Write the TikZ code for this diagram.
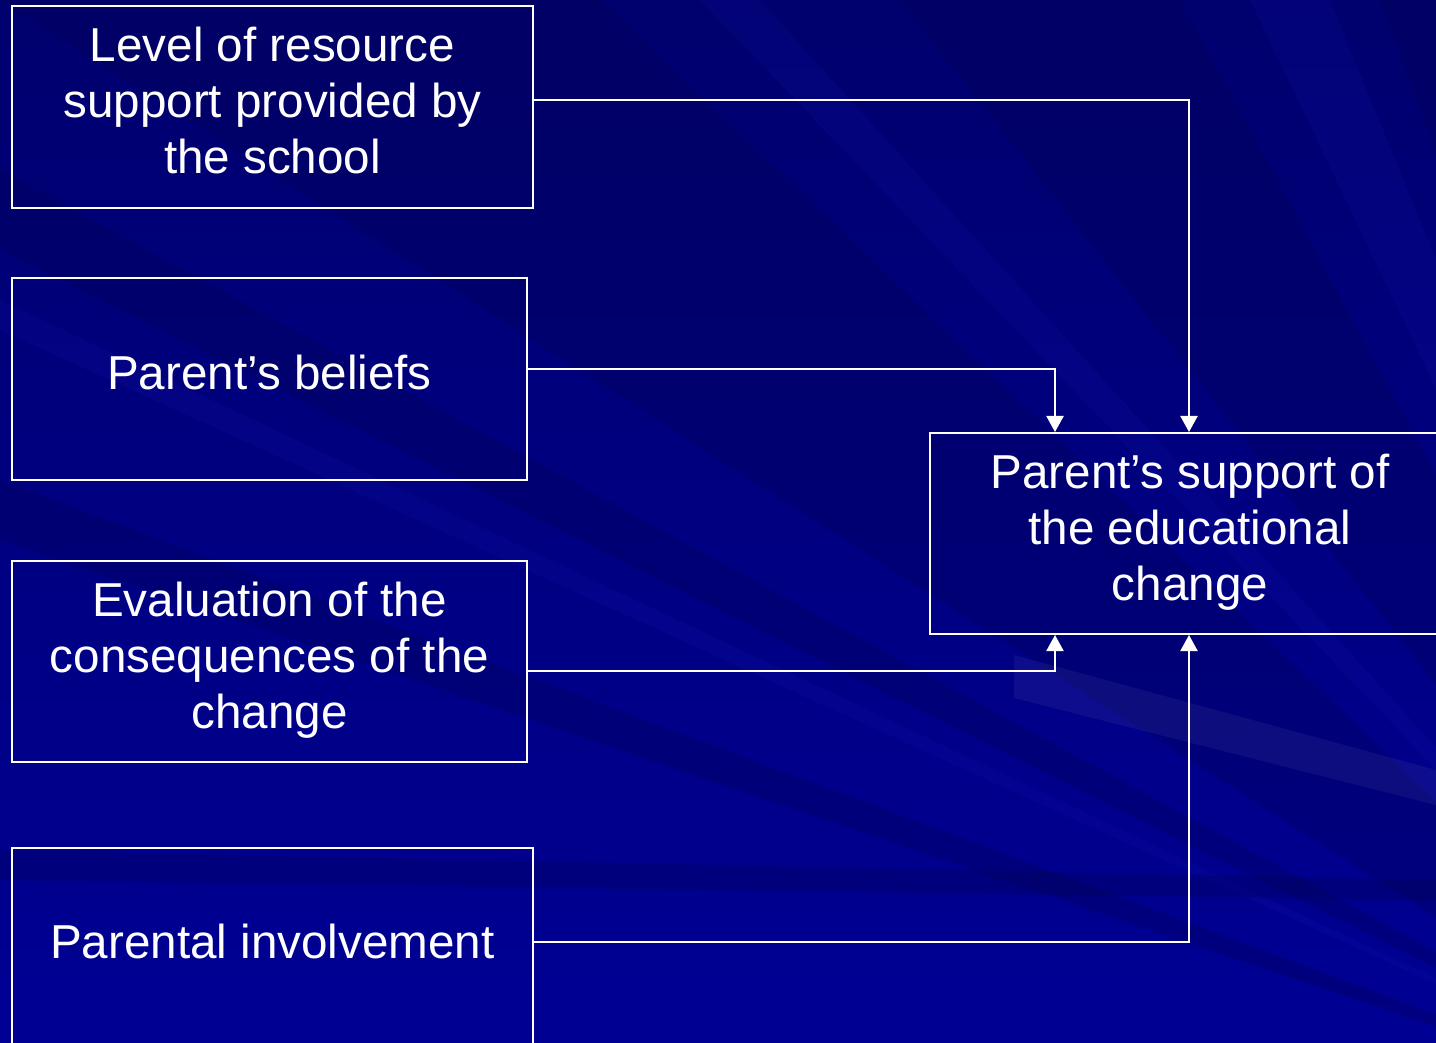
\documentclass[tikz,border=0pt]{standalone}
\usepackage{fontspec}
\setmainfont{Liberation Sans}
\usetikzlibrary{arrows.meta,calc}
\definecolor{bgblue}{RGB}{0,0,148}
\definecolor{bgtop}{RGB}{0,0,110}
\definecolor{bgdark}{RGB}{0,0,80}
\definecolor{bglight}{RGB}{30,30,190}
\begin{document}
\begin{tikzpicture}[x=0.5pt,y=-0.5pt,
  box/.style={draw=white,line width=1pt,inner sep=0pt},
  txt/.style={text=white,align=center,font=\fontsize{23.8}{28}\selectfont,inner sep=0pt},
  conn/.style={draw=white,line width=1pt,-{Triangle[width=8.5pt,length=8pt]}},
  darkray/.style={fill=bgdark,opacity=0.28},
  lightray/.style={fill=bglight,opacity=0.12}]
\useasboundingbox (0,0) rectangle (1436,1043);
% background
\shade[top color=bgtop,bottom color=bgblue] (0,0) rectangle (1436,1043);
\coordinate (P) at (1800,1150);
\fill[darkray] (P) -- (0,0) -- (600,0) -- cycle;
\fill[darkray] (P) -- (0,170) -- (0,250) -- cycle;
\fill[lightray] (P) -- (0,300) -- (0,330) -- cycle;
\fill[darkray] (P) -- (0,480) -- (0,540) -- cycle;
\fill[lightray] (P) -- (700,0) -- (760,0) -- cycle;
\fill[darkray] (P) -- (900,0) -- (1180,0) -- cycle;
\fill[lightray] (P) -- (1250,0) -- (1330,0) -- cycle;
\fill[darkray] (P) -- (1436,60) -- (1436,0) -- (1380,0) -- cycle;
\fill[darkray] (0,850) -- (1436,880) -- (1436,900) -- (0,880) -- cycle;
\fill[white,opacity=0.05] (1014,655) -- (1436,770) -- (1436,805) -- (1014,698) -- cycle;
% boxes
\node[box,minimum width=260.5pt,minimum height=101pt,
  label={[txt,yshift=3.5pt]center:{Level of resource\\support provided by\\the school}}] (b1) at (272.5,107) {};
\node[box,minimum width=257.5pt,minimum height=101pt,
  label={[txt,yshift=3.5pt]center:{Parent’s beliefs}}] (b2) at (269.5,379) {};
\node[box,minimum width=257.5pt,minimum height=100.5pt,
  label={[txt,yshift=0.5pt]center:{Evaluation of the\\consequences of the\\change}}] (b3) at (269.5,661.5) {};
\node[box,minimum width=260.5pt,minimum height=101pt,
  label={[txt,yshift=4pt]center:{Parental involvement}}] (b4) at (272.5,949) {};
\node[box,minimum width=260pt,minimum height=100.5pt,
  label={[txt,yshift=0.5pt]center:{Parent’s support of\\the educational\\change}}] (tgt) at (1190,533.5) {};
% connectors
\draw[conn] ([yshift=3.5pt]b1.east) -| ([xshift=130pt]tgt.north west);
\draw[conn] ([yshift=5pt]b2.east) -| ([xshift=63pt]tgt.north west);
\draw[conn] ([yshift=-4.75pt]b3.east) -| ([xshift=63pt]tgt.south west);
\draw[conn] ([yshift=3.5pt]b4.east) -| ([xshift=130pt]tgt.south west);
\end{tikzpicture}
\end{document}
